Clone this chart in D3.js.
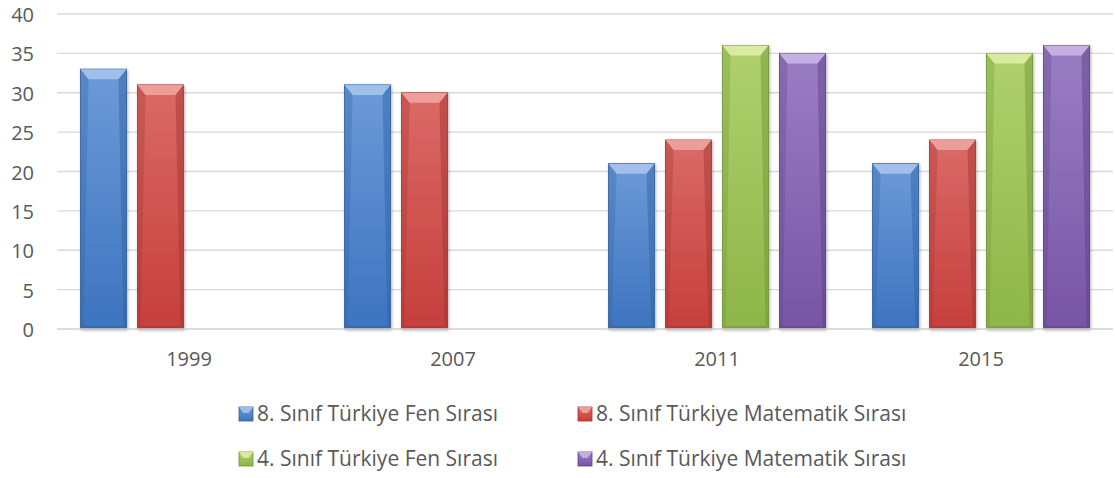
<!DOCTYPE html>
<html>
<head>
<meta charset="utf-8">
<script src="https://cdn.jsdelivr.net/npm/d3@7"></script>
<style>
  body { margin: 0; background: #fff; }
  text { font-family: "Open Sans", "Noto Sans", sans-serif; fill: #595959; }
</style>
</head>
<body>
<div id="chart"></div>
<script>
const years = ['1999', '2007', '2011', '2015'];
const seriesNames = [
    '8. Sınıf Türkiye Fen Sırası',
    '8. Sınıf Türkiye Matematik Sırası',
    '4. Sınıf Türkiye Fen Sırası',
    '4. Sınıf Türkiye Matematik Sırası'
];
const fen8 = [33, 31, 21, 21];
const mat8 = [31, 30, 24, 24];
const fen4 = [null, null, 36, 35];
const mat4 = [null, null, 35, 36];
const yTicks = [0, 5, 10, 15, 20, 25, 30, 35, 40];

// light / dark shades per series
const shades = [
    {top: '#6d9ad8', bot: '#3d74bf', bevel: '#a9c6ef', edge: '#2f5f9f'},
    {top: '#db6a66', bot: '#c53f3c', bevel: '#f0a8a5', edge: '#a03330'},
    {top: '#b0d16e', bot: '#8db547', bevel: '#dff0a8', edge: '#6f9235'},
    {top: '#9a7ec3', bot: '#7755a5', bevel: '#cdb8ea', edge: '#5c3f85'}
];

const width = 1115, height = 478;
const margin = {left: 57, right: 2, top: 14, bottom: 149};

const svg = d3.select('#chart').append('svg')
    .attr('width', width).attr('height', height);

const defs = svg.append('defs');
shades.forEach((s, i) => {
    const g = defs.append('linearGradient').attr('id', 'g' + i)
        .attr('x1', 0).attr('y1', 0).attr('x2', 0).attr('y2', 1);
    g.append('stop').attr('offset', '0%').attr('stop-color', s.top);
    g.append('stop').attr('offset', '100%').attr('stop-color', s.bot);
});
const shadow = defs.append('filter').attr('id', 'shadow')
    .attr('x', '-20%').attr('y', '-10%').attr('width', '140%').attr('height', '120%');
shadow.append('feDropShadow').attr('dx', 1).attr('dy', 1)
    .attr('stdDeviation', 1.5).attr('flood-color', '#000').attr('flood-opacity', 0.3);

const x0 = d3.scaleBand().domain(years)
    .range([margin.left, width - margin.right]);
const x1 = d3.scaleBand().domain(d3.range(4))
    .range([23.5, x0.bandwidth() - 23.5]).paddingInner(0.193);
const y = d3.scaleLinear().domain([0, 40])
    .range([height - margin.bottom, margin.top]);

// grid
svg.append('g').selectAll('line').data(yTicks).enter().append('line')
    .attr('x1', margin.left).attr('x2', width - margin.right)
    .attr('y1', (d) => y(d)).attr('y2', (d) => y(d))
    .attr('stroke', '#d9d9d9').attr('stroke-width', 1.3);

// y labels
svg.append('g').selectAll('text').data(yTicks).enter().append('text')
    .attr('x', 34).attr('y', (d) => y(d) + 1).attr('dy', '0.35em')
    .attr('text-anchor', 'end').attr('font-size', 20)
    .text((d) => d);

// x labels
svg.append('g').selectAll('text').data(years).enter().append('text')
    .attr('x', (d) => x0(d) + x0.bandwidth() / 2).attr('y', 359).attr('dy', '0.35em')
    .attr('text-anchor', 'middle').attr('font-size', 20)
    .text((d) => d);

const series = [fen8, mat8, fen4, mat4];
const bars = [];
years.forEach((yr, j) => {
    series.forEach((vals, i) => {
        if (vals[j] == null) return;
        bars.push({i: i, x: x0(yr) + x1(i), w: x1.bandwidth(), top: y(vals[j]), bot: y(0)});
    });
});

const bar = svg.append('g').selectAll('g').data(bars).enter().append('g');
bar.append('rect')
    .attr('x', (d) => d.x).attr('y', (d) => d.top)
    .attr('width', (d) => d.w).attr('height', (d) => d.bot - d.top)
    .attr('fill', (d) => 'url(#g' + d.i + ')')
    .attr('stroke', (d) => shades[d.i].edge).attr('stroke-width', 0.8)
    .attr('filter', 'url(#shadow)');
// top bevel
const bv = 10, sv = 3;
bar.append('path')
    .attr('d', (d) => `M${d.x},${d.top}L${d.x + d.w},${d.top}L${d.x + d.w - sv - 5},${d.top + bv}L${d.x + sv + 5},${d.top + bv}Z`)
    .attr('fill', (d) => shades[d.i].bevel).attr('opacity', 0.85);
// right side darker
bar.append('path')
    .attr('d', (d) => `M${d.x + d.w},${d.top}L${d.x + d.w},${d.bot}L${d.x + d.w - sv},${d.bot - sv}L${d.x + d.w - sv - 5},${d.top + bv}Z`)
    .attr('fill', (d) => shades[d.i].edge).attr('opacity', 0.45);
// left side
bar.append('path')
    .attr('d', (d) => `M${d.x},${d.top}L${d.x + sv + 5},${d.top + bv}L${d.x + sv},${d.bot - sv}L${d.x},${d.bot}Z`)
    .attr('fill', (d) => shades[d.i].edge).attr('opacity', 0.3);
// bottom
bar.append('path')
    .attr('d', (d) => `M${d.x},${d.bot}L${d.x + sv},${d.bot - sv}L${d.x + d.w - sv},${d.bot - sv}L${d.x + d.w},${d.bot}Z`)
    .attr('fill', (d) => shades[d.i].edge).attr('opacity', 0.5);

// baseline
svg.append('line')
    .attr('x1', margin.left).attr('x2', width - margin.right)
    .attr('y1', y(0)).attr('y2', y(0))
    .attr('stroke', '#d9d9d9').attr('stroke-width', 1.3);

// legend
const legPos = [[239, 414], [578, 414], [239, 459], [578, 459]];
const leg = svg.append('g').selectAll('g').data(seriesNames).enter().append('g')
    .attr('transform', (d, i) => `translate(${legPos[i][0]},${legPos[i][1]})`);
leg.append('rect')
    .attr('x', 0).attr('y', -7).attr('width', 14).attr('height', 14)
    .attr('fill', (d, i) => 'url(#g' + i + ')')
    .attr('stroke', (d, i) => shades[i].edge).attr('stroke-width', 0.8);
leg.append('path')
    .attr('d', 'M0,-7L14,-7L9.5,-1L4.5,-1Z')
    .attr('fill', (d, i) => shades[i].bevel).attr('opacity', 0.85);
leg.append('text')
    .attr('x', 18).attr('y', 0).attr('dy', '0.35em').attr('font-size', 21)
    .text((d) => d);
</script>
</body>
</html>
